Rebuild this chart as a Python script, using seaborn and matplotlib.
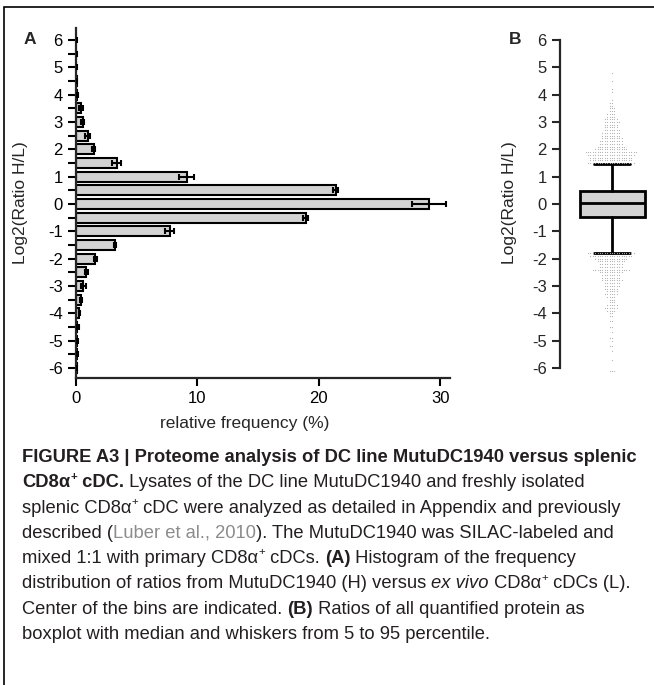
import matplotlib
matplotlib.use('Agg')
import matplotlib.pyplot as plt
import seaborn as sns
import numpy as np
import pandas as pd
from matplotlib import font_manager
from matplotlib.patches import Rectangle

W, H = 654, 685  # figure size in px (dpi 100)

# ── data: panel A histogram (bin centre, % of proteins, error) ──
bin_centers = [-6.0, -5.5, -5.0, -4.5, -4.0, -3.5, -3.0, -2.5, -2.0, -1.5, -1.0, -0.5,
               0.0, 0.5, 1.0, 1.5, 2.0, 2.5, 3.0, 3.5, 4.0, 4.5, 5.0, 5.5, 6.0]
rel_freq = [0.05, 0.08, 0.10, 0.12, 0.28, 0.40, 0.60, 0.85, 1.60, 3.20, 7.70, 18.90,
            29.10, 21.40, 9.10, 3.35, 1.45, 0.95, 0.55, 0.40, 0.12, 0.06, 0.04, 0.03, 0.02]
freq_err = [0.05, 0.05, 0.05, 0.10, 0.05, 0.10, 0.20, 0.15, 0.10, 0.10, 0.35, 0.20,
            1.40, 0.20, 0.60, 0.35, 0.10, 0.20, 0.10, 0.15, 0.05, 0.05, 0.05, 0.05, 0.05]

# ── data: panel B boxplot (5-95 percentile whiskers) ──
box_median, box_q1, box_q3 = 0.02, -0.48, 0.47
whisk_lo, whisk_hi = -1.78, 1.47

upper_levels = [1.5, 1.6, 1.7, 1.8, 1.9, 2.0, 2.1, 2.2, 2.3, 2.4, 2.5, 2.6, 2.7, 2.8,
                2.9, 3.0, 3.1, 3.2, 3.3, 3.4, 3.5, 3.6, 3.7, 3.8, 4.1, 4.2, 4.5, 4.8]
upper_counts = [20, 18, 18, 20, 22, 14, 12, 10, 10, 9, 8, 8, 7, 6,
                6, 7, 6, 4, 4, 3, 3, 2, 2, 1, 1, 1, 1, 1]
lower_levels = [-1.8, -1.9, -2.0, -2.1, -2.2, -2.3, -2.4, -2.5, -2.6, -2.7, -2.8, -2.9,
                -3.0, -3.1, -3.2, -3.3, -3.4, -3.5, -3.6, -3.7, -3.8, -3.9, -4.0, -4.1,
                -4.3, -4.5, -4.7, -4.9, -5.0, -5.2, -5.4, -5.7, -6.1]
lower_counts = [20, 18, 14, 12, 10, 10, 16, 10, 8, 8, 9, 7,
                7, 6, 5, 6, 4, 3, 3, 5, 6, 4, 2, 2,
                2, 2, 1, 2, 1, 2, 1, 1, 3]

y_ticks = list(range(-6, 7))
x_ticks = [0, 10, 20, 30]

sns.set_style('ticks')
fams = {f.name for f in font_manager.fontManager.ttflist}
NARROW = 'Liberation Sans Narrow' if 'Liberation Sans Narrow' in fams else 'Liberation Sans'
plt.rcParams['font.family'] = ['Liberation Sans', 'DejaVu Sans']
plt.rcParams['axes.linewidth'] = 1.6
plt.rcParams['axes.unicode_minus'] = False

fig = plt.figure(figsize=(W / 100, H / 100), dpi=100)


def px_rect(l, t, r, b):
    return [l / W, 1 - b / H, (r - l) / W, (b - t) / H]


ylo, yhi = -6.37, 6.44

# ── Panel A ─────────────────────────────────────────
axA = fig.add_axes(px_rect(76, 28, 450, 378))
dfA = pd.DataFrame({'ratio': bin_centers, 'freq': rel_freq})
sns.barplot(data=dfA, x='freq', y='ratio', orient='y', native_scale=True, width=0.74,
            color='#d3d3d3', saturation=1, edgecolor='black', linewidth=1.5,
            errorbar=None, ax=axA)
axA.errorbar(rel_freq, bin_centers, xerr=freq_err, fmt='none', ecolor='black',
             elinewidth=1.5, capsize=2.5, capthick=1.5, zorder=5)
axA.set_ylim(ylo, yhi)
axA.set_xlim(0, 30.8)
axA.set_yticks(y_ticks)
axA.set_yticks(np.arange(-5.5, 6, 1), minor=True)
axA.set_xticks(x_ticks)
axA.tick_params(axis='both', which='both', direction='out', length=6, width=1.5,
                labelsize=12, color='black', labelcolor='black')
axA.set_ylabel('Log2(Ratio H/L)', fontsize=12.5)
axA.set_xlabel('relative frequency (%)', fontsize=12.5)
axA.yaxis.set_label_coords(-0.128, 0.5)
axA.xaxis.set_label_coords(0.452, -0.13)
axA.xaxis.label.set_va('center')
sns.despine(ax=axA)

# ── Panel B ─────────────────────────────────────────
axB = fig.add_axes(px_rect(560, 28, 654, 378))
outliers = np.concatenate([np.repeat(upper_levels, upper_counts),
                           np.repeat(lower_levels, lower_counts)])
sns.swarmplot(y=outliers, ax=axB, color='#b0b0b0', size=1.65, marker='.', linewidth=0)
stats = [dict(med=box_median, q1=box_q1, q3=box_q3, whislo=whisk_lo, whishi=whisk_hi,
              fliers=[])]
axB.bxp(stats, positions=[0], widths=0.7, capwidths=[0.38], patch_artist=True,
        showfliers=False, manage_ticks=False,
        boxprops=dict(facecolor='#d3d3d3', edgecolor='black', linewidth=2),
        medianprops=dict(color='black', linewidth=2),
        whiskerprops=dict(color='black', linewidth=2),
        capprops=dict(color='black', linewidth=2))
axB.set_xlim(-0.56, 0.452)
axB.set_ylim(ylo, yhi)
axB.set_yticks(y_ticks)
axB.set_xticks([])
axB.tick_params(axis='y', direction='out', length=6, width=1.5, labelsize=12)
axB.set_ylabel('Log2(Ratio H/L)', fontsize=12.5)
axB.yaxis.set_label_coords(-0.457, 0.5)
sns.despine(ax=axB, bottom=True)
axB.spines['left'].set_bounds(-6, 6)

fig.text(30 / W, 1 - 40 / H, 'A', fontsize=12.5, fontweight='bold', ha='center', va='center')
fig.text(515 / W, 1 - 40 / H, 'B', fontsize=12.5, fontweight='bold', ha='center', va='center')

# frame around the figure
fig.add_artist(Rectangle((4 / W, -0.05), 1.0, 1.05 - 7 / H, transform=fig.transFigure,
                         fill=False, edgecolor='black', linewidth=1.2))

# ── caption (rich text, drawn run by run) ───────────
TXT = '#231f20'
GREY = '#8c8c8c'
cap_size = 13.2
renderer = fig.canvas.get_renderer()


def run_width(txt, kw):
    t1 = fig.text(0, 0, 'a' + txt + 'a', **kw)
    t2 = fig.text(0, 0, 'aa', **kw)
    w = t1.get_window_extent(renderer).width - t2.get_window_extent(renderer).width
    t1.remove(); t2.remove()
    return w


def draw_line(y_px, runs, x_px=22):
    x = x_px
    for txt, style in runs:
        kw = dict(fontsize=cap_size, family=[NARROW, 'DejaVu Sans'], color=TXT)
        dy = 0
        if 'b' in style:
            kw['fontweight'] = 'bold'
        if 'i' in style:
            kw['fontstyle'] = 'italic'
        if 'g' in style:
            kw['color'] = GREY
        if 's' in style:
            kw['fontsize'] = cap_size * 0.62
            dy = cap_size * 0.42 * 100 / 72
        fig.text(x / W, 1 - (y_px - dy) / H, txt, ha='left', va='baseline', **kw)
        x += run_width(txt, kw)


caption = [
    [('FIGURE A3 | Proteome analysis of DC line MutuDC1940 versus splenic', 'b')],
    [('CD8\u03b1', 'b'), ('+', 'bs'), (' cDC.', 'b'),
     (' Lysates of the DC line MutuDC1940 and freshly isolated', '')],
    [('splenic CD8\u03b1', ''), ('+', 's'),
     (' cDC were analyzed as detailed in Appendix and previously', '')],
    [('described (', ''), ('Luber et al., 2010', 'g'),
     ('). The MutuDC1940 was SILAC-labeled and', '')],
    [('mixed 1:1 with primary CD8\u03b1', ''), ('+', 's'), (' cDCs. ', ''), ('(A)', 'b'),
     (' Histogram of the frequency', '')],
    [('distribution of ratios from MutuDC1940 (H) versus ', ''), ('ex vivo', 'i'),
     (' CD8\u03b1', ''), ('+', 's'), (' cDCs (L).', '')],
    [('Center of the bins are indicated. ', ''), ('(B)', 'b'),
     (' Ratios of all quantified protein as', '')],
    [('boxplot with median and whiskers from 5 to 95 percentile.', '')],
]
for i, runs in enumerate(caption):
    draw_line(462 + i * 25.3, runs)

fig.savefig('out.png', dpi=100)
